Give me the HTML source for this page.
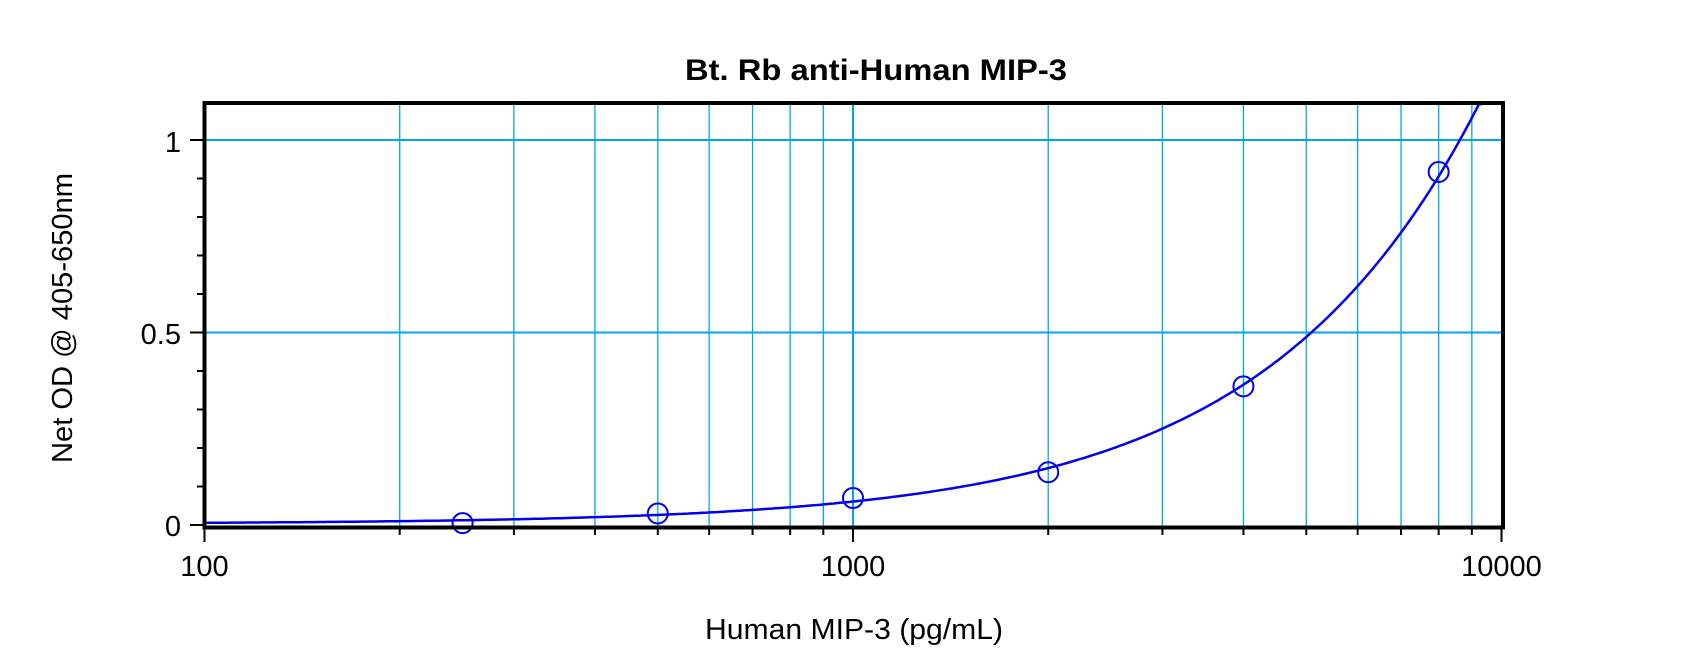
<!DOCTYPE html>
<html><head><meta charset="utf-8"><style>
html,body{margin:0;padding:0;background:#fff;}
svg{display:block;font-family:"Liberation Sans",Arial,sans-serif;}
</style></head><body>
<svg id="s" width="1700" height="663" viewBox="0 0 1700 663" xmlns="http://www.w3.org/2000/svg">
<rect width="1700" height="663" fill="#fff"/>
<g id="grid"></g>
<g id="ticks" stroke="#000"></g>
<polyline id="curve" fill="none" stroke="#0000ee" stroke-width="2.5"/>
<g id="pts" fill="none" stroke="#0000ee" stroke-width="2"></g>
<rect x="204.5" y="103" width="1298.5" height="424.5" fill="none" stroke="#000" stroke-width="4"/>
<text x="876" y="80" font-size="30" font-weight="bold" text-anchor="middle" textLength="382" lengthAdjust="spacingAndGlyphs">Bt. Rb anti-Human MIP-3</text>
<text x="854" y="639" font-size="29" text-anchor="middle" textLength="298" lengthAdjust="spacingAndGlyphs">Human MIP-3 (pg/mL)</text>
<text transform="translate(72,318) rotate(-90)" font-size="29" text-anchor="middle" textLength="290" lengthAdjust="spacingAndGlyphs">Net OD @ 405-650nm</text>
<g font-size="29" text-anchor="middle">
<text x="204.5" y="576">100</text>
<text x="853" y="576">1000</text>
<text x="1501.5" y="576">10000</text>
</g>
<g font-size="29" text-anchor="end">
<text x="181" y="152">1</text>
<text x="181" y="344">0.5</text>
<text x="181" y="536">0</text>
</g>
</svg>
<script>
var NS="http://www.w3.org/2000/svg";
function X(v){return 204.5+(Math.log10(v)-2)*648.5;}
function Y(v){return 525-v*385;}
function el(p,t,a){var e=document.createElementNS(NS,t);for(var k in a)e.setAttribute(k,a[k]);p.appendChild(e);return e;}
var g=document.getElementById('grid'),tk=document.getElementById('ticks');
[0.5,1].forEach(function(v){el(g,'line',{x1:204.5,x2:1503,y1:Y(v),y2:Y(v),stroke:'#00a8e8','stroke-width':2});});
for(var d=100;d<=1000;d*=10){for(var m=1;m<=9;m++){var v=d*m;if(v<=100)continue;var x=X(v);
 if(v<10000)el(g,'line',{x1:x,x2:x,y1:103,y2:527,stroke:'#00a8e8','stroke-width':(v==1000?2:1.3)});
 var maj=(v==1000);el(tk,'line',{x1:x,x2:x,y1:527,y2:maj?542:535,'stroke-width':2});}}
el(tk,'line',{x1:204.5,x2:204.5,y1:527,y2:542,'stroke-width':2});
el(tk,'line',{x1:1501.5,x2:1501.5,y1:527,y2:542,'stroke-width':2});
for(var i=0;i<=10;i++){var y=Y(i/10);var maj=(i%5==0);el(tk,'line',{x1:maj?190:197,x2:204,y1:y,y2:y,'stroke-width':2});}
var pts=[];for(var lx=2;lx<=3.97;lx+=0.005){var v=Math.pow(10,lx);var o=0.058*Math.pow(v/1000,1.32)+0.003;var y=Y(o);if(y<104){pts.push(X(v).toFixed(1)+','+104);break;}pts.push(X(v).toFixed(1)+','+y.toFixed(1));}
document.getElementById('curve').setAttribute('points',pts.join(' '));
var p=document.getElementById('pts');
[[250,0.005],[500,0.03],[1000,0.07],[2000,0.137],[4000,0.36],[8000,0.917]].forEach(function(d){el(p,'circle',{cx:X(d[0]),cy:Y(d[1]),r:10});});
</script>
</body></html>
